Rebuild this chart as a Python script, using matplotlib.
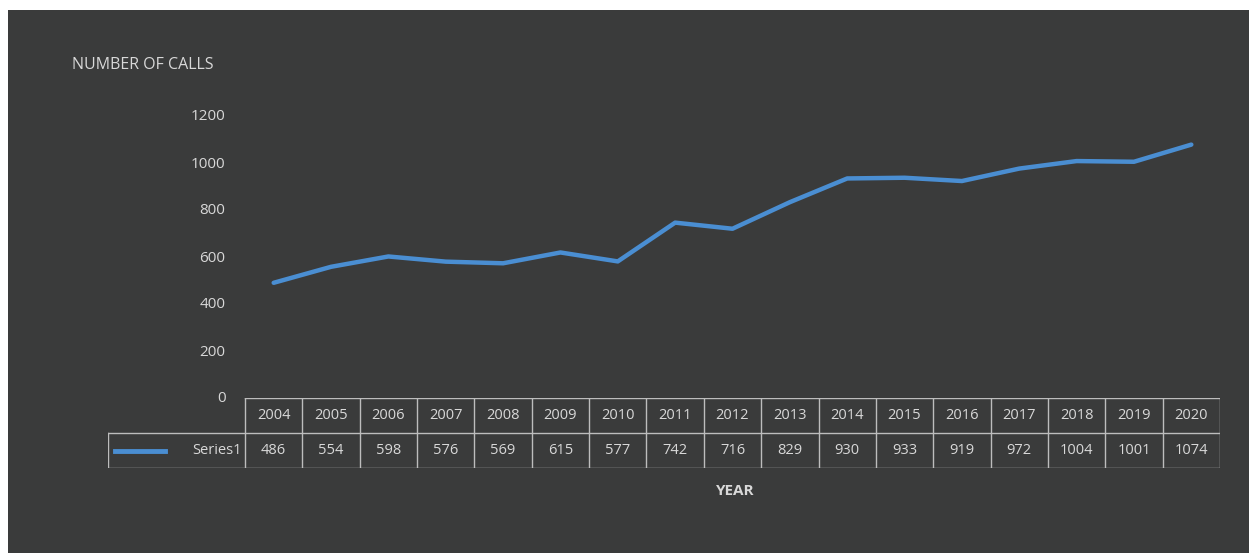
import matplotlib
matplotlib.use("Agg")
import matplotlib.pyplot as plt
from matplotlib.patches import Rectangle

years = [2004, 2005, 2006, 2007, 2008, 2009, 2010, 2011, 2012,
         2013, 2014, 2015, 2016, 2017, 2018, 2019, 2020]
calls = [486, 554, 598, 576, 569, 615, 577, 742, 716,
         829, 930, 933, 919, 972, 1004, 1001, 1074]
yticks = [0, 200, 400, 600, 800, 1000, 1200]
series_name = "Series1"

W, H = 1249, 553
bg = "#3a3b3b"
fg = "#d8d8d8"
blue = "#4a8ed2"
grid = "#bdbdbd"
plt.rcParams['font.family'] = ['Open Sans', 'DejaVu Sans']

fig = plt.figure(figsize=(W / 100, H / 100), dpi=100, facecolor="white")
fig.patches.append(Rectangle((8 / W, 0), 1, 1 - 10 / H, transform=fig.transFigure,
                             facecolor=bg, edgecolor="none", zorder=-10))

def fx(px):
    return px / W

def fy(py):
    return 1 - py / H

# line plot
ax = fig.add_axes([fx(245), fy(397), fx(1220) - fx(245), fy(115) - fy(397)])
ax.set_facecolor("none")
x = list(range(len(years)))
ax.plot(x, calls, color=blue, lw=3.2, solid_capstyle="round", solid_joinstyle="round")
ax.set_xlim(-0.5, len(years) - 0.5)
ax.set_ylim(0, 1200)
ax.set_yticks(yticks)
ax.set_yticklabels([str(v) for v in yticks], color=fg, fontsize=11)
ax.tick_params(axis="y", length=0, pad=14)
ax.set_xticks([])
for s in ax.spines.values():
    s.set_visible(False)
fig.text(fx(72), fy(65), "NUMBER OF CALLS", color=fg, fontsize=11.5, va="center", ha="left")

# data table
hdr = 137 / ((1220 - 245) / len(years))
tb = fig.add_axes([fx(108), fy(468), fx(1220) - fx(108), fy(398) - fy(468)])
tb.set_facecolor("none")
tb.set_xlim(-0.5 - hdr, len(years) - 0.5)
tb.set_ylim(0, 2)
tb.axis("off")
n = len(years)
tb.plot([-0.5, n - 0.5], [2, 2], color=grid, lw=1)
tb.plot([-0.5 - hdr, n - 0.5], [1, 1], color=grid, lw=1)
tb.plot([-0.5 - hdr, n - 0.5], [0, 0], color=grid, lw=1)
tb.plot([-0.5 - hdr, -0.5 - hdr], [0, 1], color=grid, lw=1)
for i in range(n + 1):
    tb.plot([i - 0.5, i - 0.5], [0, 2], color=grid, lw=1)
for i, (yr, v) in enumerate(zip(years, calls)):
    tb.text(i, 1.5, str(yr), color=fg, fontsize=10.5, ha="center", va="center")
    tb.text(i, 0.5, str(v), color=fg, fontsize=10.5, ha="center", va="center")
tb.plot([-0.5 - hdr + 0.12, -0.5 - hdr + 1.0], [0.5, 0.5], color=blue, lw=3.5)
tb.text(-0.55, 0.5, series_name, color=fg, fontsize=10.5, ha="right", va="center")

fig.text(fx(735), fy(491), "YEAR", color=fg, fontsize=11, fontweight="bold",
         ha="center", va="center")

fig.savefig("out.png", dpi=100, facecolor="white")
